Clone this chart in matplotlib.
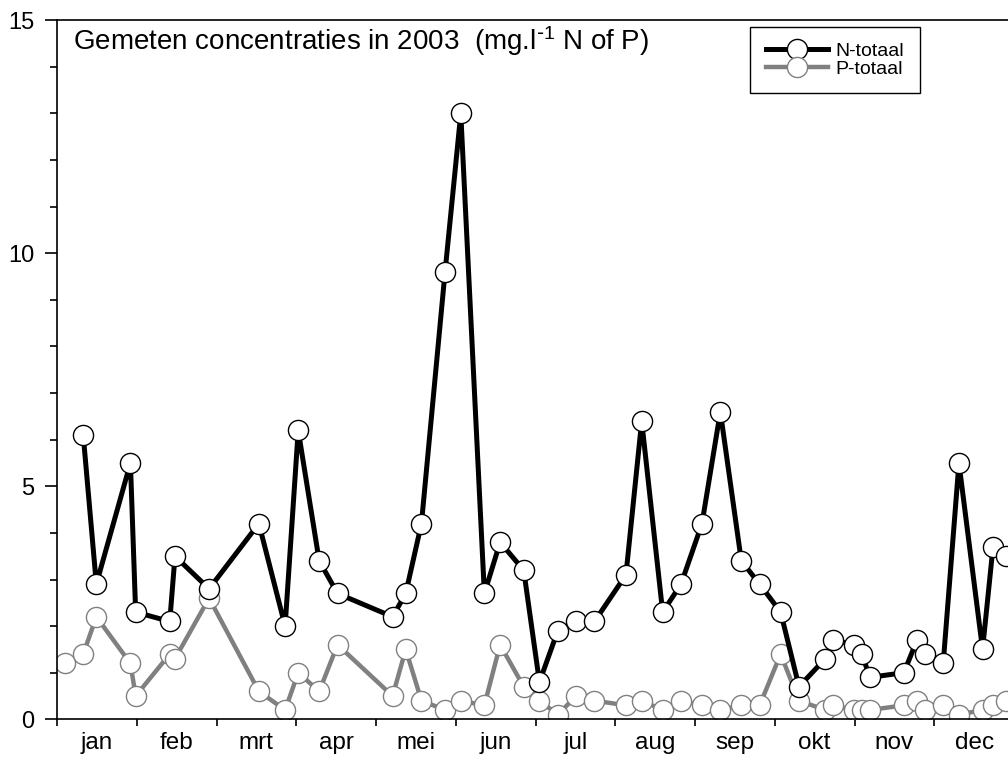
import numpy as np
import matplotlib
matplotlib.use("Agg")
import matplotlib.pyplot as plt

plt.rcParams['font.family'] = ['Liberation Sans', 'DejaVu Sans']
plt.rcParams['mathtext.default'] = 'regular'

# sample dates (day of year 2003) and measured concentrations (mg/l)
days_p = [3, 10, 15, 28, 30, 43, 45, 58, 77, 87, 92, 100, 107, 128, 133, 139,
          148, 154, 163, 169, 178, 184, 191, 198, 205, 217, 223, 231, 238, 246,
          253, 261, 268, 276, 283, 293, 296, 304, 307, 310, 323, 328, 331, 338,
          344, 353, 357, 362]
days_n = days_p[1:]

n_totaal = [6.1, 2.9, 5.5, 2.3, 2.1, 3.5, 2.8, 4.2, 2.0, 6.2, 3.4, 2.7, 2.2, 2.7,
            4.2, 9.6, 13.0, 2.7, 3.8, 3.2, 0.8, 1.9, 2.1, 2.1, 3.1, 6.4, 2.3, 2.9,
            4.2, 6.6, 3.4, 2.9, 2.3, 0.7, 1.3, 1.7, 1.6, 1.4, 0.9, 1.0, 1.7, 1.4,
            1.2, 5.5, 1.5, 3.7, 3.5]
p_totaal = [1.2, 1.4, 2.2, 1.2, 0.5, 1.4, 1.3, 2.6, 0.6, 0.2, 1.0, 0.6, 1.6, 0.5,
            1.5, 0.4, 0.2, 0.4, 0.3, 1.6, 0.7, 0.4, 0.1, 0.5, 0.4, 0.3, 0.4, 0.2,
            0.4, 0.3, 0.2, 0.3, 0.3, 1.4, 0.4, 0.2, 0.3, 0.2, 0.2, 0.2, 0.3, 0.4,
            0.2, 0.3, 0.1, 0.2, 0.3, 0.4]

maanden = ['jan', 'feb', 'mrt', 'apr', 'mei', 'jun', 'jul', 'aug', 'sep',
           'okt', 'nov', 'dec']

W, H = 1008, 761
fig = plt.figure(figsize=(W / 100, H / 100), dpi=100)
ax = fig.add_axes([57 / W, (H - 719.3) / H, 957 / W, 699 / H])

grey = '#808080'
ax.plot(days_n, n_totaal, color='black', lw=3.6, marker='o', ms=14.5,
        mfc='white', mec='black', mew=1.0, label='N-totaal', zorder=3)
ax.plot(days_p, p_totaal, color=grey, lw=3.2, marker='o', ms=14.5,
        mfc='white', mec=grey, mew=1.0, label='P-totaal', zorder=2)

ax.set_xlim(0, 365)
ax.set_ylim(0, 15)

grens = np.arange(13) * 365 / 12
ax.set_xticks(grens)
ax.set_xticklabels([])
ax.set_xticks((grens[:-1] + grens[1:]) / 2, minor=True)
ax.set_xticklabels(maanden, minor=True)
ax.tick_params(axis='x', which='major', direction='out', length=5, width=1.2)
ax.tick_params(axis='x', which='minor', length=0, pad=9, labelsize=17.5)

ax.set_yticks([0, 5, 10, 15])
ax.set_yticks(np.arange(0, 16, 1), minor=True)
ax.tick_params(axis='y', which='major', direction='out', length=8.5, width=1.2,
               labelsize=17, pad=8)
ax.tick_params(axis='y', which='minor', direction='out', length=5, width=1.2)

for s in ['left', 'bottom', 'top']:
    ax.spines[s].set_linewidth(1.2)
ax.spines['right'].set_visible(False)

fig.text(73 / W, 1 - 50 / H, 'Gemeten concentraties in 2003  (mg.l$^{\\text{-}1}$ N of P)',
         fontsize=20, va='baseline', ha='left')

leg = ax.legend(loc='upper left', bbox_to_anchor=(750 / W, 1 - 27 / H),
                bbox_transform=fig.transFigure, borderaxespad=0, fontsize=14,
                handlelength=3.2, handletextpad=0.4, labelspacing=0.0,
                borderpad=0.8, fancybox=False, framealpha=1, edgecolor='black')
leg.get_frame().set_linewidth(1.0)

fig.savefig('out.png', dpi=100)
